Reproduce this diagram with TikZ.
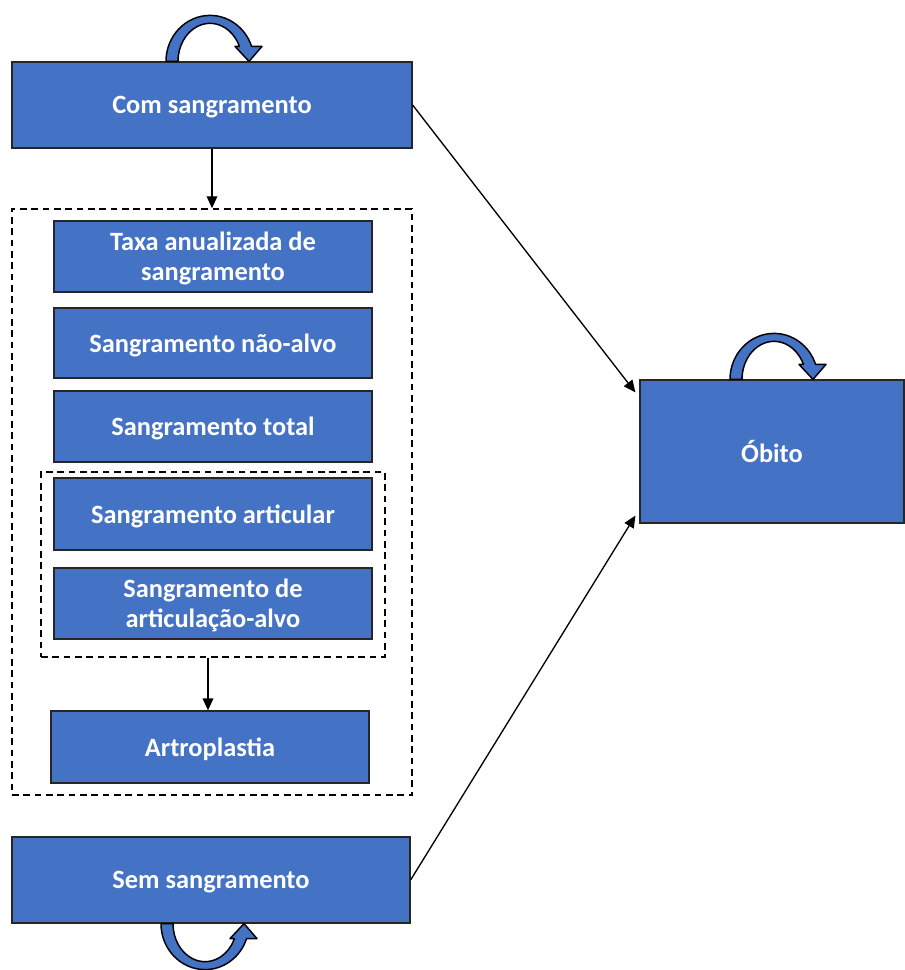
\documentclass[tikz,border=0pt]{standalone}
\usepackage{fontspec}
\setmainfont{Carlito}
\usetikzlibrary{arrows.meta,calc}
\definecolor{boxblue}{HTML}{4472C4}
\tikzset{
  blk/.style={draw=black!85, line width=0.9pt, fill=boxblue, text=white,
    font=\bfseries\fontsize{19.8}{22.5}\selectfont, align=center, inner sep=0pt,
    text depth=0pt},
  grp/.style={draw=black, line width=1.1pt, dash pattern=on 5pt off 3.5pt, inner sep=0pt},
  conn/.style={draw=black, line width=1pt, -{Triangle[length=9pt,width=8pt]}},
  loopband/.style={fill=boxblue, draw=black, line width=1.1pt, line join=round},
  % curved self-transition arrow; local +y points away from the box
  selfloop/.pic={
    \path[loopband] (-44,0)
      arc[start angle=180, end angle=19, x radius=44, y radius=46]
      -- (52,15) -- (39,0) -- (25,15) -- (29.4,15)
      arc[start angle=23.2, end angle=180, x radius=32, y radius=38]
      -- cycle;
  }
}
\begin{document}
\begin{tikzpicture}[x=0.75pt, y=-0.75pt]
\useasboundingbox (0,0) rectangle (905,970);

% health states
\node[blk, minimum width=300pt, minimum height=64.5pt] (com) at (212,105) {Com sangramento};
\node[blk, minimum width=298.5pt, minimum height=64.5pt] (sem) at (211,880) {Sem sangramento};
\node[blk, minimum width=198pt, minimum height=107.25pt] (obito) at (772,451.5) {Óbito};

% outcomes inside the bleeding state
\node[grp, minimum width=300pt, minimum height=439.5pt] (outer) at (212,502) {};
\node[blk, minimum width=238.5pt, minimum height=53.25pt] (taxa) at (213,256.5) {Taxa anualizada de\\sangramento};
\node[blk, minimum width=238.5pt, minimum height=52.5pt] (naoalvo) at (213,343) {Sangramento não-alvo};
\node[blk, minimum width=238.5pt, minimum height=53.25pt] (total) at (213,426.5) {Sangramento total};
\node[grp, minimum width=258pt, minimum height=138.75pt] (inner) at (213,564.5) {};
\node[blk, minimum width=238.5pt, minimum height=54pt] (articular) at (213,514) {Sangramento articular};
\node[blk, minimum width=238.5pt, minimum height=53.25pt] (alvo) at (213,603.5) {Sangramento de\\articulação-alvo};
\node[blk, minimum width=238.5pt, minimum height=54pt] (artro) at (210,747) {Artroplastia};

% transitions
\draw[conn] (com.south) -- (outer.north);
\draw[conn] ($(inner.south)+(-5,0)$) -- ($(artro.north)+(-2,0)$);
\draw[conn] (com.east) -- ($(obito.north west)+(-4,13)$);
\draw[conn] (sem.east) -- ($(obito.south west)+(-4,-8)$);

% staying in the same state
\pic[yscale=-1] at ($(com.north)+(-2,0)$) {selfloop};
\pic[yscale=-1] at ($(obito.north)+(2,0)$) {selfloop};
\pic at ($(sem.south)+(-6,0)$) {selfloop};
\end{tikzpicture}
\end{document}
